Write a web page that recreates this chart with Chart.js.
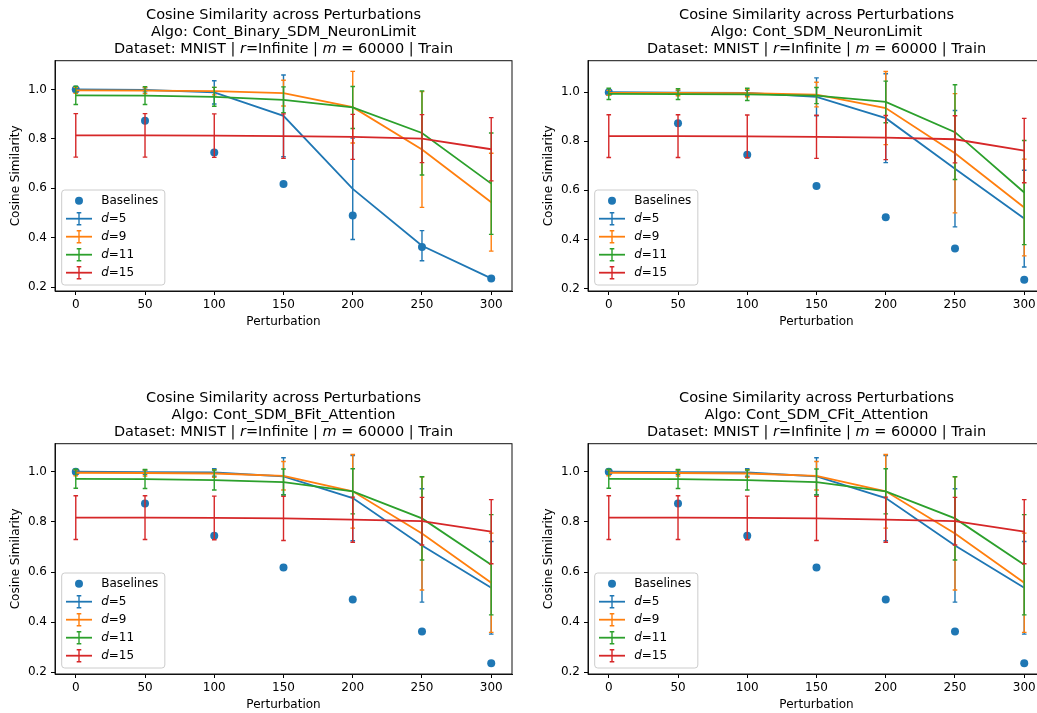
<!DOCTYPE html>
<html>
<head>
<meta charset="utf-8">
<script src="https://cdn.jsdelivr.net/npm/chart.js@4.4.1/dist/chart.umd.min.js"></script>
<style>
  html, body { margin: 0; padding: 0; background: #fff; }
  body { width: 1037px; height: 713px; overflow: hidden; position: relative; }
  .panel { position: absolute; width: 520px; height: 340px; }
</style>
</head>
<body>
<div class="panel" style="left:0px;top:0px"><canvas id="c0" width="520" height="340"></canvas></div>
<div class="panel" style="left:533.3px;top:0px"><canvas id="c1" width="520" height="340"></canvas></div>
<div class="panel" style="left:0px;top:383px"><canvas id="c2" width="520" height="340"></canvas></div>
<div class="panel" style="left:533.3px;top:383px"><canvas id="c3" width="520" height="340"></canvas></div>
<script>
// x positions / tick labels
const perturbations = [0, 50, 100, 150, 200, 250, 300];
const yTicks = [0.2, 0.4, 0.6, 0.8, 1.0];
const dValues = [5, 9, 11, 15];

// same baseline in every panel
const baselines = [1.0, 0.873, 0.745, 0.618, 0.490, 0.363, 0.236];

// Cont_Binary_SDM_NeuronLimit  (rows: d=5, 9, 11, 15)
const binaryNLMeans = [
  [1.000, 0.998, 0.988, 0.893, 0.598, 0.368, 0.236],
  [0.996, 0.995, 0.993, 0.985, 0.928, 0.757, 0.544],
  [0.976, 0.975, 0.970, 0.958, 0.927, 0.824, 0.619],
  [0.814, 0.814, 0.813, 0.811, 0.808, 0.801, 0.758]
];
const binaryNLErrors = [
  [0.004, 0.008, 0.047, 0.165, 0.205, 0.061, 0.005],
  [0.012, 0.012, 0.015, 0.052, 0.145, 0.234, 0.198],
  [0.037, 0.036, 0.038, 0.052, 0.085, 0.170, 0.205],
  [0.088, 0.088, 0.088, 0.090, 0.091, 0.097, 0.128]
];

// Cont_SDM_NeuronLimit
const sdmNLMeans = [
  [1.000, 0.998, 0.997, 0.981, 0.894, 0.688, 0.485],
  [0.997, 0.997, 0.996, 0.990, 0.935, 0.751, 0.530],
  [0.993, 0.992, 0.991, 0.986, 0.960, 0.837, 0.591],
  [0.821, 0.821, 0.820, 0.818, 0.815, 0.808, 0.762]
];
const sdmNLErrors = [
  [0.005, 0.008, 0.010, 0.077, 0.181, 0.237, 0.197],
  [0.010, 0.012, 0.015, 0.050, 0.149, 0.243, 0.197],
  [0.023, 0.022, 0.025, 0.033, 0.085, 0.193, 0.212],
  [0.087, 0.087, 0.087, 0.088, 0.090, 0.096, 0.131]
];

// Cont_SDM_BFit_Attention
const bfitMeans = [
  [1.000, 0.998, 0.997, 0.982, 0.895, 0.706, 0.537],
  [0.996, 0.995, 0.993, 0.984, 0.922, 0.754, 0.557],
  [0.972, 0.971, 0.967, 0.959, 0.922, 0.814, 0.629],
  [0.817, 0.817, 0.816, 0.814, 0.809, 0.803, 0.761]
];
const bfitErrors = [
  [0.004, 0.008, 0.015, 0.074, 0.170, 0.226, 0.185],
  [0.012, 0.012, 0.015, 0.057, 0.147, 0.226, 0.198],
  [0.038, 0.038, 0.040, 0.052, 0.090, 0.166, 0.200],
  [0.087, 0.087, 0.087, 0.088, 0.090, 0.095, 0.128]
];

// Cont_SDM_CFit_Attention
const cfitMeans = [
  [1.000, 0.998, 0.997, 0.982, 0.895, 0.706, 0.537],
  [0.996, 0.995, 0.993, 0.984, 0.922, 0.754, 0.557],
  [0.972, 0.971, 0.967, 0.959, 0.922, 0.814, 0.629],
  [0.817, 0.817, 0.816, 0.814, 0.809, 0.803, 0.761]
];
const cfitErrors = [
  [0.004, 0.008, 0.015, 0.074, 0.170, 0.226, 0.185],
  [0.012, 0.012, 0.015, 0.057, 0.147, 0.226, 0.198],
  [0.038, 0.038, 0.040, 0.052, 0.090, 0.166, 0.200],
  [0.087, 0.087, 0.087, 0.088, 0.090, 0.095, 0.128]
];

const algoNames = ['Cont_Binary_SDM_NeuronLimit', 'Cont_SDM_NeuronLimit', 'Cont_SDM_BFit_Attention', 'Cont_SDM_CFit_Attention'];
const yLimits = [[0.185, 1.116], [0.19, 1.128], [0.193, 1.112], [0.193, 1.112]];

const FONT = '"DejaVu Sans", sans-serif';
const COLORS = ['#1f77b4', '#ff7f0e', '#2ca02c', '#d62728'];

function drawRuns(ctx, runs, x, y, size, center) {
  let total = 0;
  runs.forEach(r => {
    ctx.font = (r[1] ? 'italic ' : '') + size + 'px ' + FONT;
    total += ctx.measureText(r[0]).width;
  });
  if (center) x = x - total / 2;
  runs.forEach(r => {
    ctx.font = (r[1] ? 'italic ' : '') + size + 'px ' + FONT;
    ctx.fillText(r[0], x, y);
    x += ctx.measureText(r[0]).width;
  });
  return total;
}

// error bars, drawn right after each line so stacking follows the lines
const errorBars = {
  id: 'errorBars',
  afterDatasetDraw(chart, args) {
    const ds = chart.data.datasets[args.index];
    if (!ds.errors) return;
    const ctx = chart.ctx, xs = chart.scales.x, ys = chart.scales.y;
    ctx.save();
    ctx.strokeStyle = ds.borderColor;
    ctx.lineWidth = 1.4;
    ds.data.forEach((p, i) => {
      const px = xs.getPixelForValue(p.x);
      const top = ys.getPixelForValue(p.y + ds.errors[i]);
      const bot = ys.getPixelForValue(p.y - ds.errors[i]);
      ctx.beginPath();
      ctx.moveTo(px, top); ctx.lineTo(px, bot);
      ctx.moveTo(px - 2.3, top); ctx.lineTo(px + 2.3, top);
      ctx.moveTo(px - 2.3, bot); ctx.lineTo(px + 2.3, bot);
      ctx.stroke();
    });
    ctx.restore();
  }
};

// frame, 3-line title and matplotlib style legend
const decorations = {
  id: 'decorations',
  afterDraw(chart) {
    const ctx = chart.ctx, ca = chart.chartArea;
    const opts = chart.options.plugins.decorations;
    ctx.save();
    ctx.strokeStyle = '#111';
    ctx.lineWidth = 1;
    ctx.strokeRect(ca.left, ca.top, ca.right - ca.left, ca.bottom - ca.top);

    ctx.fillStyle = '#000';
    ctx.textBaseline = 'middle';
    const cx = (ca.left + ca.right) / 2;
    drawRuns(ctx, [['Cosine Similarity across Perturbations', false]], cx, 15, 14.5, true);
    drawRuns(ctx, [['Algo: ' + opts.algo, false]], cx, 32, 14.5, true);
    drawRuns(ctx, [['Dataset: MNIST | ', false], ['r', true], ['=Infinite | ', false], ['m', true], [' = 60000 | Train', false]], cx, 49, 14.5, true);

    // legend
    const sets = chart.data.datasets;
    ctx.font = '12px ' + FONT;
    let maxW = 0;
    sets.forEach(ds => {
      let w = 0;
      ds.legendRuns.forEach(r => {
        ctx.font = (r[1] ? 'italic ' : '') + '12px ' + FONT;
        w += ctx.measureText(r[0]).width;
      });
      maxW = Math.max(maxW, w);
    });
    const bx = ca.left + 6.7, bh = 95, by = ca.bottom - 6 - bh, bw = 39.5 + maxW + 6.5;
    ctx.beginPath();
    ctx.roundRect(bx, by, bw, bh, 3);
    ctx.fillStyle = 'rgba(255,255,255,0.8)';
    ctx.fill();
    ctx.strokeStyle = '#cccccc';
    ctx.stroke();
    sets.forEach((ds, i) => {
      const y = by + 10.7 + i * 18;
      const mx = bx + 17.3;
      if (!ds.errors) {
        ctx.beginPath();
        ctx.arc(mx, y, 4, 0, Math.PI * 2);
        ctx.fillStyle = ds.backgroundColor;
        ctx.fill();
      } else {
        ctx.strokeStyle = ds.borderColor;
        ctx.lineWidth = 1.8;
        ctx.beginPath();
        ctx.moveTo(bx + 4.3, y); ctx.lineTo(bx + 30.3, y);
        ctx.stroke();
        ctx.lineWidth = 1.4;
        ctx.beginPath();
        ctx.moveTo(mx, y - 6); ctx.lineTo(mx, y + 6);
        ctx.moveTo(mx - 2.3, y - 6); ctx.lineTo(mx + 2.3, y - 6);
        ctx.moveTo(mx - 2.3, y + 6); ctx.lineTo(mx + 2.3, y + 6);
        ctx.stroke();
      }
      ctx.fillStyle = '#000';
      drawRuns(ctx, ds.legendRuns, bx + 39.5, y, 12, false);
    });
    ctx.restore();
  }
};

function makePanel(id, algo, means, errors, limits) {
  const datasets = [{
    label: 'Baselines',
    legendRuns: [['Baselines', false]],
    data: perturbations.map((x, i) => ({ x: x, y: baselines[i] })),
    backgroundColor: '#1f77b4',
    borderWidth: 0,
    pointRadius: 4,
    pointHoverRadius: 4,
    showLine: false,
    order: 10
  }];
  dValues.forEach((d, k) => {
    datasets.push({
      label: 'd=' + d,
      legendRuns: [['d', true], ['=' + d, false]],
      data: perturbations.map((x, i) => ({ x: x, y: means[k][i] })),
      errors: errors[k],
      borderColor: COLORS[k],
      backgroundColor: COLORS[k],
      borderWidth: 1.8,
      pointRadius: 0,
      pointHoverRadius: 0,
      showLine: true,
      tension: 0,
      order: 4 - k
    });
  });

  const tickFont = { family: FONT, size: 12 };
  new Chart(document.getElementById(id), {
    type: 'scatter',
    data: { datasets: datasets },
    plugins: [errorBars, decorations],
    options: {
      responsive: false,
      animation: false,
      events: [],
      layout: { padding: { top: 60.7, right: 8, bottom: 0, left: 0 } },
      plugins: {
        legend: { display: false },
        tooltip: { enabled: false },
        decorations: { algo: algo }
      },
      scales: {
        x: {
          type: 'linear',
          min: -15,
          max: 315,
          afterBuildTicks: s => { s.ticks = perturbations.map(v => ({ value: v })); },
          afterFit: s => { s.height = 49; },
          grid: { drawOnChartArea: false, drawTicks: true, tickLength: 4, color: '#000', lineWidth: 1 },
          border: { display: true, color: '#111', width: 1 },
          ticks: { color: '#000', font: tickFont, padding: 3, autoSkip: false, maxRotation: 0, callback: v => String(v) },
          title: { display: true, text: 'Perturbation', color: '#000', font: tickFont, padding: { top: 0, bottom: 11 } }
        },
        y: {
          type: 'linear',
          min: limits[0],
          max: limits[1],
          afterBuildTicks: s => { s.ticks = yTicks.map(v => ({ value: v })); },
          afterFit: s => { s.width = 55; },
          grid: { drawOnChartArea: false, drawTicks: true, tickLength: 4, color: '#000', lineWidth: 1 },
          border: { display: true, color: '#111', width: 1 },
          ticks: { color: '#000', font: tickFont, padding: 4, autoSkip: false, callback: v => v.toFixed(1) },
          title: { display: true, text: 'Cosine Similarity', color: '#000', font: tickFont, padding: { top: 8.5, bottom: 0 } }
        }
      }
    }
  });
}

makePanel('c0', algoNames[0], binaryNLMeans, binaryNLErrors, yLimits[0]);
makePanel('c1', algoNames[1], sdmNLMeans, sdmNLErrors, yLimits[1]);
makePanel('c2', algoNames[2], bfitMeans, bfitErrors, yLimits[2]);
makePanel('c3', algoNames[3], cfitMeans, cfitErrors, yLimits[3]);
</script>
</body>
</html>
